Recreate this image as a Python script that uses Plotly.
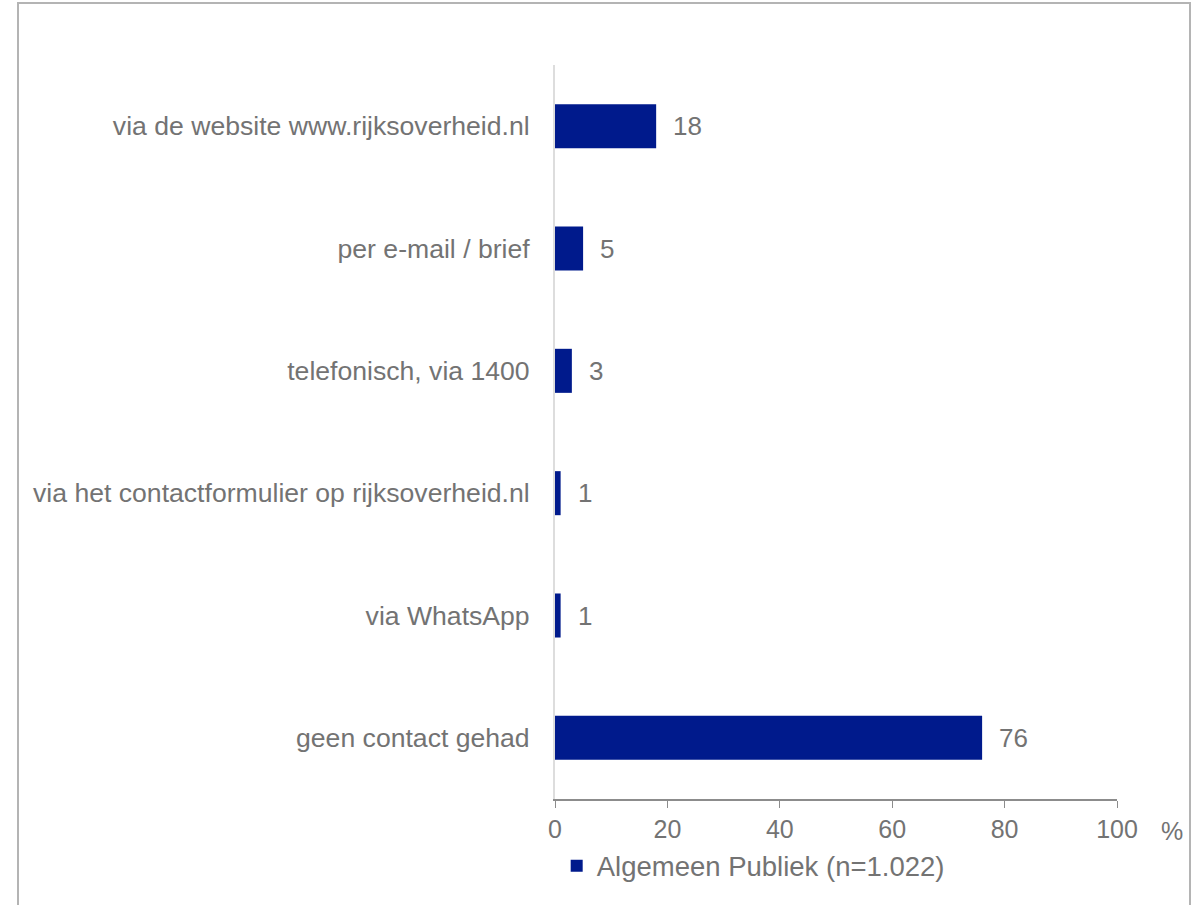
import plotly.graph_objects as go

categories = [
    "via de website www.rijksoverheid.nl",
    "per e-mail / brief",
    "telefonisch, via 1400",
    "via het contactformulier op rijksoverheid.nl",
    "via WhatsApp",
    "geen contact gehad",
]
values = [18, 5, 3, 1, 1, 76]
series_name = "Algemeen Publiek (n=1.022)"
x_ticks = [0, 20, 40, 60, 80, 100]

BAR = "#001A8C"
TXT = "#737373"
FONT = "Liberation Sans, Arial, sans-serif"

fig = go.Figure()
fig.add_trace(go.Bar(
    y=categories, x=values, orientation="h", name=series_name,
    marker=dict(color=BAR, line=dict(width=0)), width=0.36,
    showlegend=True,
))

for c, v in zip(categories, values):
    fig.add_annotation(x=v, y=c, text=str(v), showarrow=False, xanchor="left",
                       xshift=15, font=dict(size=26, color=TXT, family=FONT))

fig.add_annotation(xref="paper", yref="paper", x=1.098, y=-0.044, text="%", showarrow=False,
                   font=dict(size=25, color=TXT, family=FONT), xanchor="center", yanchor="middle")

# outer border
fig.add_shape(type="rect", xref="paper", yref="paper", x0=-0.9555, x1=1.1299, y0=-0.3, y1=1.0845,
              line=dict(color="#B4B4B4", width=2), fillcolor="rgba(0,0,0,0)", layer="below")

fig.update_layout(
    width=1203, height=905,
    margin=dict(l=555, r=86, t=65, b=106),
    paper_bgcolor="white", plot_bgcolor="white",
    font=dict(family=FONT, size=26, color=TXT),
    bargap=0.64,
    legend=dict(orientation="h", x=0.003, y=-0.091, xanchor="left", yanchor="middle",
                font=dict(size=27.5, color=TXT, family=FONT), itemwidth=30,
                bgcolor="rgba(0,0,0,0)"),
    xaxis=dict(range=[0, 100], tickvals=x_ticks, ticks="outside", ticklen=7, tickcolor="#8C8C8C",
               showline=True, linecolor="#8C8C8C", linewidth=2, showgrid=False, zeroline=False,
               tickfont=dict(size=25, color=TXT, family=FONT)),
    yaxis=dict(categoryorder="array", categoryarray=categories[::-1], autorange=False,
               range=[-0.5, 5.5], showline=True, linecolor="#DDDDDD", linewidth=2,
               ticks="", showgrid=False, zeroline=False, ticklabelstandoff=18,
               tickfont=dict(size=26.6, color=TXT, family=FONT)),
)

fig.write_html("out.html")
